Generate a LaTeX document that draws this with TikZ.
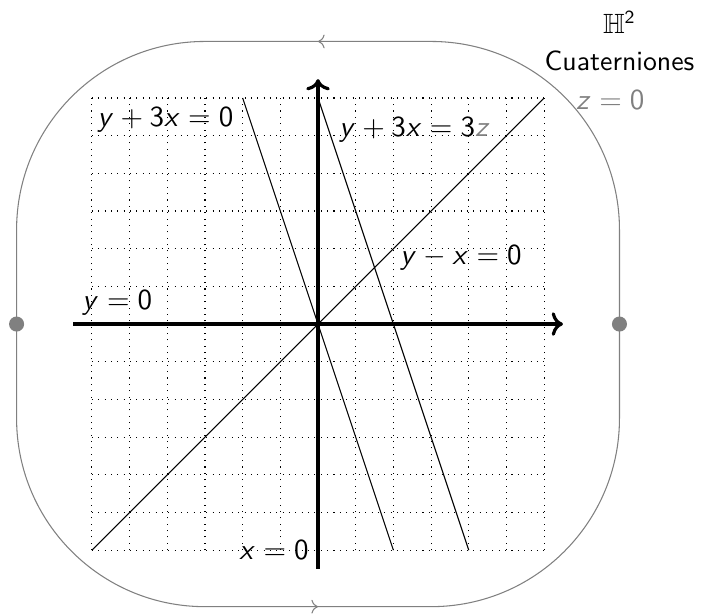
\documentclass[tikz,border=0pt]{standalone}
\usepackage{amssymb}
\usetikzlibrary{arrows.meta}
\renewcommand{\familydefault}{\sfdefault}
\DeclareMathAlphabet{\mathsfit}{OT1}{cmss}{m}{sl}

\begin{document}
\begin{tikzpicture}[x=0.5cm, y=0.5cm,
    every node/.style={font=\fontsize{10.5}{12.6}\selectfont},
    axis/.style={->, very thick},
    recta/.style={black},
    frontera/.style={gray},
    punto/.style={circle, fill=gray, inner sep=0pt, minimum size=0.2cm},
  ]
  \useasboundingbox (-8.44,-7.67) rectangle (10.19,8.60);

  % plano con rejilla
  \draw[dotted, step=0.5cm] (-6,-6) grid (6,6);
  \draw[recta] (-6,-6) -- (6,6);
  \draw[recta] (-2,6) -- (2,-6);
  \draw[recta] (0,6) -- (4,-6);
  \draw[axis] (-6.5,0) -- (6.5,0);
  \draw[axis] (0,-6.5) -- (0,6.5);

  % frontera
  \draw[frontera, rounded corners=2.5cm] (-8,-7.5) rectangle (8,7.5);
  \draw[frontera, ->] (0.3,7.5) -- (0,7.5);
  \draw[frontera, ->] (-0.3,-7.5) -- (0,-7.5);
  \node[punto] (pizq) at (-8,0) {};
  \node[punto] (pder) at (8,0) {};

  % etiquetas
  \node[below left] (r1) at (-2,6) {$\mathsfit{y}+\mathsf{3}\mathsfit{x}=\mathsf{0}$};
  \node[anchor=west] (r2) at (0.32,5.15) {$\mathsfit{y}+\mathsf{3}\mathsfit{x}=\mathsf{3}{\color{gray}\mathsfit{z}}$};
  \node[anchor=west] (r3) at (1.94,1.75) {$\mathsfit{y}-\mathsfit{x}=\mathsf{0}$};
  \node[above right] (ejex) at (-6.5,0) {$\mathsfit{y}=\mathsf{0}$};
  \node[above left] (ejey) at (0,-6.5) {$\mathsfit{x}=\mathsf{0}$};
  \node[anchor=west, text=gray] (zinf) at (6.6,5.95) {$\mathsfit{z}=\mathsf{0}$};
  \node (cuat) at (8,6.98) {Cuaterniones};
  \node (hdos) at (8,8.0) {$\mathbb{H}^{\mathsf{2}}$};
\end{tikzpicture}
\end{document}
